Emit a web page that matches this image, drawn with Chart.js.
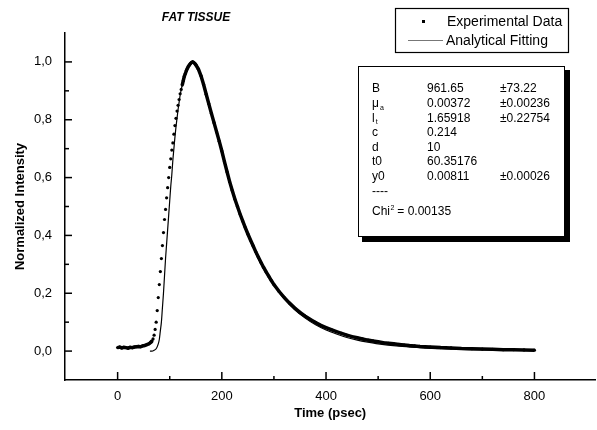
<!DOCTYPE html>
<html><head><meta charset="utf-8">
<script src="https://cdn.jsdelivr.net/npm/chart.js@4.4.1/dist/chart.umd.min.js"></script>
<style>html,body{margin:0;padding:0;background:#fff}#wrap{width:597px;height:430px;position:relative}</style>
</head><body><div id="wrap"><canvas id="c" width="597" height="430"></canvas></div>
<script>
// ---- data ----
const expTime = [0,4,8,12,16,20,24,28,32,36,40,44,48,52,56,60,
  62,64,66,68,70,72,74,76,78,80,82,84,86,88,90,92,94,96,98,100,
  102,104,106,108,110,112,114,116,118,120,122,124,126,128,130,132,134,136,138,140,
  142,144,146,148,150,155,160,165,170,175,180,185,190,195,200,
  205,210,215,220,225,230,235,240,245,250,255,260,265,270,275,280,285,290,295,300,
  310,320,330,340,350,360,370,380,390,400,410,420,430,440,450,460,470,480,490,500,
  510,520,530,540,550,560,570,580,590,600,620,640,660,680,700,720,740,760,780,800];
const expIntensity = [0.012,0.014,0.011,0.013,0.012,0.010,0.013,0.012,0.014,0.015,0.016,0.015,0.018,0.019,0.022,0.025,
  0.028,0.031,0.035,0.042,0.055,0.075,0.10,0.14,0.185,0.23,0.275,0.32,0.365,0.41,0.455,0.49,0.53,0.565,0.60,0.635,
  0.665,0.695,0.72,0.75,0.78,0.805,0.83,0.85,0.87,0.89,0.905,0.92,0.935,0.95,0.96,0.97,0.978,0.985,0.99,0.995,
  0.998,1.0,0.998,0.995,0.99,0.975,0.952,0.922,0.888,0.855,0.822,0.79,0.758,0.726,0.692,
  0.655,0.62,0.586,0.555,0.526,0.5,0.474,0.45,0.427,0.405,0.384,0.364,0.344,0.325,0.307,0.29,0.274,0.259,0.244,0.23,
  0.206,0.185,0.166,0.149,0.134,0.121,0.109,0.099,0.089,0.081,0.074,0.067,0.061,0.055,0.05,0.046,0.042,0.038,0.035,0.032,
  0.029,0.027,0.025,0.023,0.021,0.019,0.018,0.016,0.015,0.014,0.012,0.011,0.009,0.008,0.007,0.006,0.005,0.005,0.004,0.003];
const fitTime = [62,66,70,74,78,80,82,84,86,88,90,92,94,96,98,100,102,104,106,108,110,112,114,116,118,120,
  124,128,132,136,140,144,148,152,160,170,180,190,200,210,220,230,240,250,260,270,280,290,300,
  320,340,360,380,400,420,440,460,480,500,540,580,620,660,700,750,800];
const fitIntensity = [0,0,0.003,0.008,0.025,0.04,0.07,0.10,0.15,0.20,0.26,0.32,0.37,0.42,0.47,0.52,0.57,0.61,0.66,0.70,0.74,0.775,0.805,0.835,0.86,0.885,
  0.92,0.95,0.972,0.987,0.996,1.0,0.997,0.99,0.95,0.885,0.82,0.755,0.69,0.615,0.55,0.495,0.445,0.4,0.36,0.32,0.285,0.255,0.227,
  0.18,0.143,0.114,0.091,0.073,0.059,0.047,0.038,0.031,0.025,0.017,0.012,0.008,0.006,0.004,0.003,0.002];
const xTickValues = [0,200,400,600,800];
const xMinorValues = [100,300,500,700];
const yTickValues = [0,0.2,0.4,0.6,0.8,1.0];
const yMinorValues = [0.1,0.3,0.5,0.7,0.9];
const seriesNames = ['Experimental Data','Analytical Fitting'];
const chartTitle = 'FAT TISSUE';
const paramNames = ['B','\u03bc','l','c','d','t0','y0'];
const paramSubs = ['','a','t','','','',''];
const paramValues = ['961.65','0.00372','1.65918','0.214','10','60.35176','0.00811'];
const paramErrors = ['\u00b173.22','\u00b10.00236','\u00b10.22754','','','','\u00b10.00026'];
const chiLabel = 'Chi';
const chiValue = ' = 0.00135';

const FONT = '"Liberation Sans", Arial, sans-serif';

const decor = {
  id: 'decor',
  afterDraw(chart) {
    const {ctx, scales: {x, y}} = chart;
    ctx.save();
    ctx.strokeStyle = '#000';
    ctx.lineWidth = 1.5;
    const seg = (x1, y1, x2, y2) => { ctx.beginPath(); ctx.moveTo(x1, y1); ctx.lineTo(x2, y2); ctx.stroke(); };
    const yb = y.bottom, xl = x.left;
    xTickValues.forEach(v => { const p = x.getPixelForValue(v); seg(p, yb, p, yb - 8); });
    xMinorValues.forEach(v => { const p = x.getPixelForValue(v); seg(p, yb, p, yb - 4); });
    yTickValues.forEach(v => { const p = y.getPixelForValue(v); seg(xl, p, xl + 7, p); });
    yMinorValues.forEach(v => { const p = y.getPixelForValue(v); seg(xl, p, xl + 4, p); });

    // title
    ctx.fillStyle = '#000';
    ctx.font = 'italic bold 12px ' + FONT;
    ctx.textAlign = 'center';
    ctx.textBaseline = 'middle';
    ctx.fillText(chartTitle, 196, 18);

    // legend box
    ctx.lineWidth = 1.2;
    ctx.strokeRect(395.5, 8.5, 173, 44);
    ctx.textAlign = 'left';
    ctx.font = '14px ' + FONT;
    ctx.fillRect(422, 20, 3, 3);
    ctx.fillText(seriesNames[0], 447, 22);
    ctx.strokeStyle = '#777';
    ctx.lineWidth = 1;
    seg(408, 40.5, 443, 40.5);
    ctx.fillText(seriesNames[1], 446, 41);

    // parameter box with shadow
    ctx.fillStyle = '#000';
    ctx.fillRect(362, 70, 208, 172);
    ctx.fillStyle = '#fff';
    ctx.fillRect(358, 66, 207, 171);
    ctx.strokeStyle = '#000';
    ctx.lineWidth = 1;
    ctx.strokeRect(358.5, 66.5, 206, 170);
    ctx.fillStyle = '#000';
    ctx.textBaseline = 'middle';
    const rowY0 = 89, dy = 14.6;
    paramNames.forEach((n, i) => {
      const ry = rowY0 + i * dy;
      ctx.font = '12px ' + FONT;
      ctx.fillText(n, 372, ry);
      if (paramSubs[i]) {
        const w = ctx.measureText(n).width;
        ctx.font = '7px ' + FONT;
        ctx.fillText(paramSubs[i], 372 + w + 1, ry + 4);
        ctx.font = '12px ' + FONT;
      }
      ctx.fillText(paramValues[i], 427, ry);
      if (paramErrors[i]) ctx.fillText(paramErrors[i], 500, ry);
    });
    ctx.font = '12px ' + FONT;
    ctx.fillText('----', 372, rowY0 + 7 * dy);
    const cy = 212;
    ctx.fillText(chiLabel, 372, cy);
    const cw = ctx.measureText(chiLabel).width;
    ctx.font = '7px ' + FONT;
    ctx.fillText('2', 372 + cw + 0.5, cy - 4);
    ctx.font = '12px ' + FONT;
    ctx.fillText(chiValue, 372 + cw + 4, cy);
    ctx.restore();
  }
};

const expData = expTime.map((t, i) => ({x: t, y: expIntensity[i]}));
const fitData = fitTime.map((t, i) => ({x: t, y: fitIntensity[i]}));

new Chart(document.getElementById('c'), {
  type: 'line',
  data: {
    datasets: [
      {
        label: seriesNames[1], data: fitData, borderColor: '#000', borderWidth: 1.2,
        pointRadius: 0, cubicInterpolationMode: 'monotone', fill: false
      },
      {
        label: seriesNames[0], data: expData, borderColor: '#000', borderWidth: 3.5,
        pointRadius: 1.6, pointBackgroundColor: '#000', pointBorderWidth: 0, pointHoverRadius: 0,
        fill: false,
        segment: {
          borderColor: c => (c.p0.parsed.x >= 66 && c.p1.parsed.x <= 124) ? 'rgba(0,0,0,0)' : '#000'
        }
      }
    ]
  },
  options: {
    responsive: false,
    animation: false,
    devicePixelRatio: 1,
    layout: {padding: {top: 33, right: 0, left: 0, bottom: 0}},
    plugins: {legend: {display: false}, title: {display: false}, tooltip: {enabled: false}},
    scales: {
      x: {
        type: 'linear', min: -101, max: 917,
        afterBuildTicks: s => { s.ticks = xTickValues.map(v => ({value: v})); },
        afterFit: s => { s.height = 50; },
        grid: {display: false, drawTicks: false},
        border: {display: true, color: '#000', width: 1.5},
        ticks: {color: '#000', font: {family: FONT, size: 13}, padding: 9, maxRotation: 0,
          callback: v => String(v)},
        title: {display: true, text: 'Time (psec)', color: '#000',
          font: {family: FONT, size: 13, weight: 'bold'}, padding: {top: 0, bottom: 9}}
      },
      y: {
        type: 'linear', min: -0.1, max: 1.1,
        afterBuildTicks: s => { s.ticks = yTickValues.map(v => ({value: v})); },
        afterFit: s => { s.width = 65; },
        grid: {display: false, drawTicks: false},
        border: {display: true, color: '#000', width: 1.5},
        ticks: {color: '#000', font: {family: FONT, size: 13}, padding: 13,
          callback: v => v.toFixed(1).replace('.', ',')},
        title: {display: true, text: 'Normalized Intensity', color: '#000',
          font: {family: FONT, size: 13, weight: 'bold'}, padding: {top: 13, bottom: 0}}
      }
    }
  },
  plugins: [decor]
});
</script>
</body></html>
